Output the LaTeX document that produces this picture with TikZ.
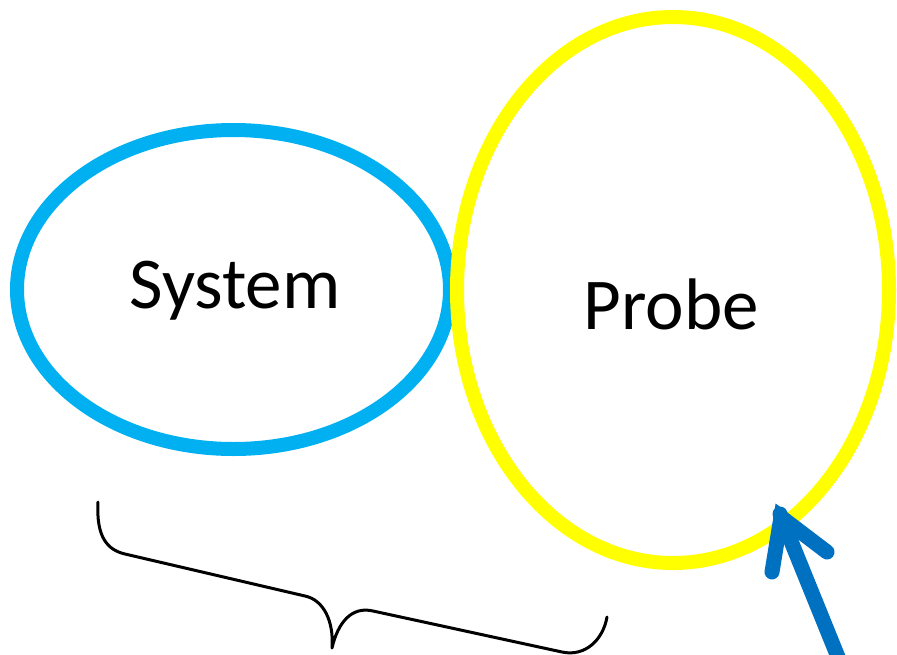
\documentclass[tikz,border=0pt]{standalone}
\usepackage{fontspec}
\setmainfont{Carlito}
\usetikzlibrary{shapes.geometric}
\definecolor{sysblue}{HTML}{00B0F0}
\definecolor{probeyellow}{HTML}{FFFF00}
\definecolor{arrowblue}{HTML}{0070C0}
\tikzset{
  ring/.style={draw, ellipse, line width=14pt, inner sep=0pt},
  lbl/.style={anchor=base, font=\fontsize{73}{80}\selectfont, inner sep=0pt},
  bracestyle/.style={draw=black, line width=3pt, line cap=round, line join=round},
  bigarrow/.style={draw=arrowblue, line width=15pt, line cap=round}
}
\begin{document}
\begin{tikzpicture}[x=1pt,y=-1pt]
\useasboundingbox (0,0) rectangle (897,654);
\node[ring, draw=sysblue, minimum width=433pt, minimum height=319pt] (system) at (233.5,289.5) {};
\node[ring, draw=probeyellow, minimum width=432pt, minimum height=546pt] (probe) at (673,290) {};
\node[lbl] (systxt) at (235,308) {System};
\node[lbl] (probetxt) at (671.5,329) {Probe};
% brace
\draw[bracestyle] (98,502) .. controls (96,538) and (108,550) .. (125,554)
  -- (305,596) .. controls (324,600) and (334,622) .. (332,648)
  .. controls (338,622) and (352,606) .. (373,611)
  -- (562,652) .. controls (585,657) and (603,640) .. (607,617);
% arrow
\coordinate (astart) at (840,662);
\coordinate (ashaft) at (780,514);
\coordinate (abarbL) at (772,572);
\coordinate (abarbR) at (827,552);
\coordinate (ajoin) at (781,517);
\draw[bigarrow] (astart) -- (ashaft);
\draw[bigarrow, line join=miter] (abarbL) -- (ajoin) -- (abarbR);
\end{tikzpicture}
\end{document}
